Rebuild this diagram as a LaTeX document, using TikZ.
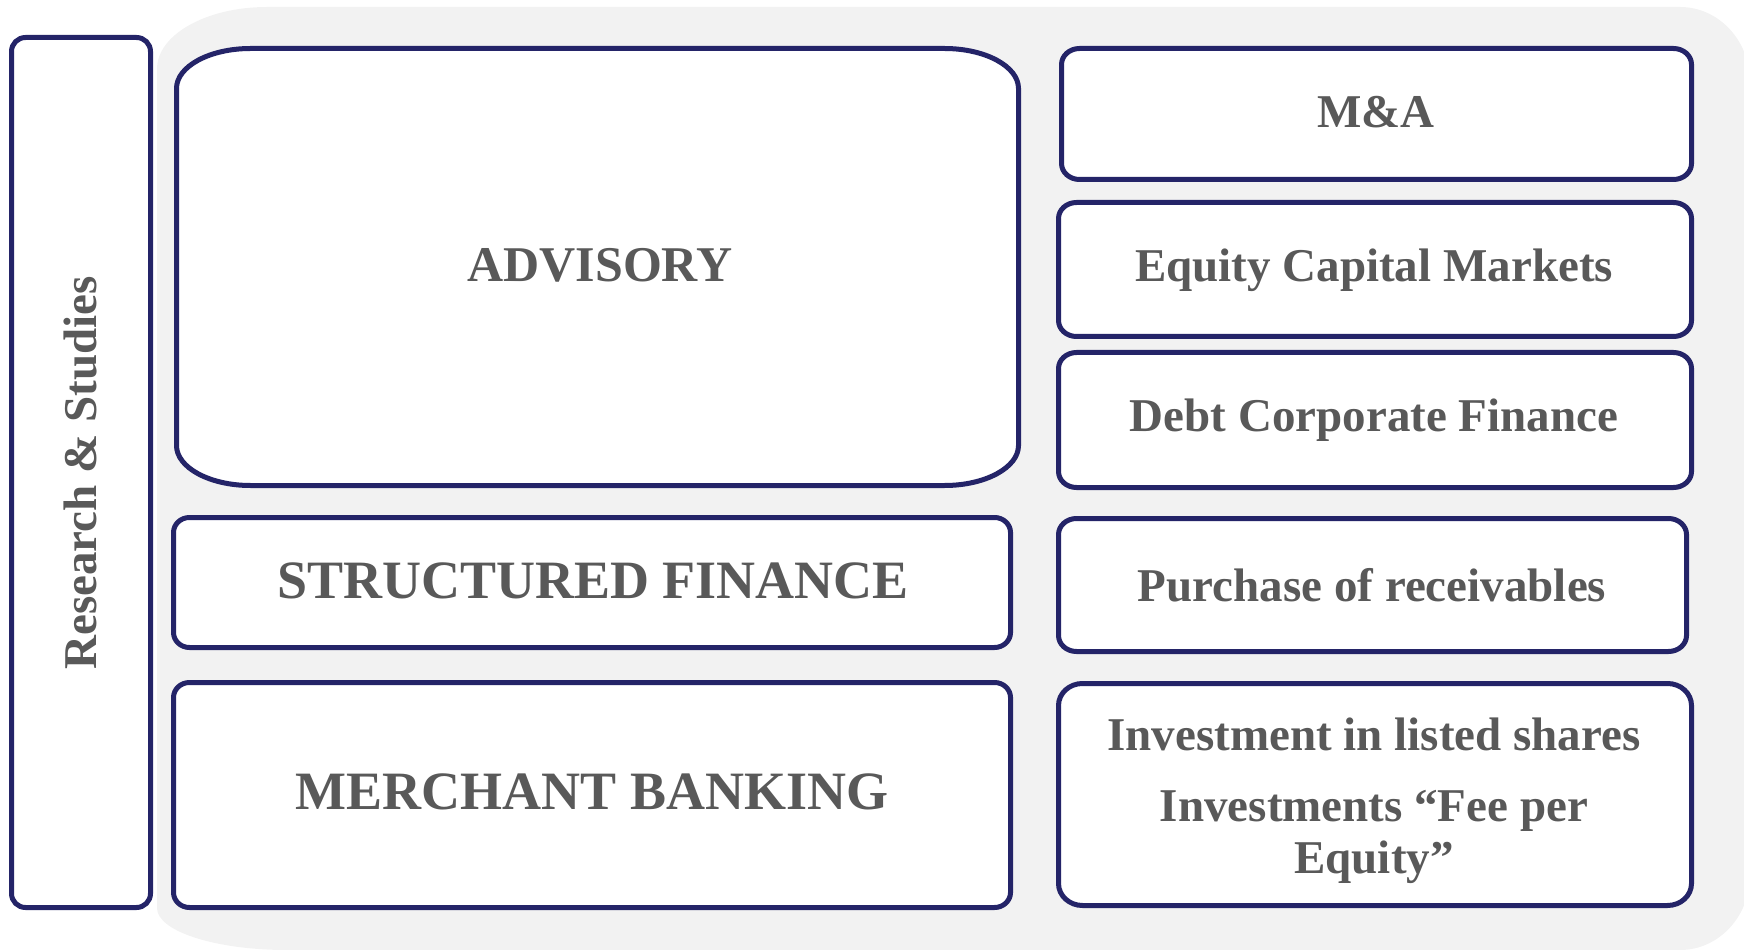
\documentclass[tikz,border=0pt]{standalone}
\usepackage{fontspec}
\setmainfont{Liberation Serif}
\definecolor{navy}{RGB}{36,36,104}
\definecolor{txtgray}{RGB}{89,89,89}
\definecolor{bggray}{RGB}{242,242,242}
\newcommand{\rbox}[6]{(#1+#5,#2)--(#3-#5,#2) arc[start angle=-90,end angle=0,x radius=#5,y radius=#6]--(#3,#4-#6) arc[start angle=0,end angle=90,x radius=#5,y radius=#6]--(#1+#5,#4) arc[start angle=90,end angle=180,x radius=#5,y radius=#6]--(#1,#2+#6) arc[start angle=180,end angle=270,x radius=#5,y radius=#6]--cycle}

\begin{document}
\begin{tikzpicture}[x=.5pt,y=.5pt,
	box/.style={draw=navy,line width=2.5pt,fill=white},
	lbl/.style={text=txtgray,font=\bfseries\fontsize{23.5}{26}\selectfont,align=center},
	caps/.style={text=txtgray,font=\bfseries\fontsize{27}{30}\selectfont}]
	\useasboundingbox (0,0) rectangle (1744,949);
	\fill[bggray](287,-1)--(1680,-1) arc[start angle=-90,end angle=0,x radius=70,y radius=75]--(1750,867) arc[start angle=0,end angle=90,x radius=70,y radius=75]--(267,942) arc[start angle=90,end angle=180,x radius=110,y radius=62]--(157,41) arc[start angle=180,end angle=270,x radius=130,y radius=42]--cycle;
	\draw[box] \rbox{11.5}{41.5}{150.5}{911.5}{14}{14};
	\draw[box] \rbox{176.5}{463.5}{1018.5}{900.5}{74}{40};
	\draw[box] \rbox{173.5}{301.5}{1010.5}{431.5}{16}{15};
	\draw[box] \rbox{173.5}{41.5}{1010.5}{266.5}{16}{15};
	\draw[box] \rbox{1061.5}{769.5}{1691.5}{900.5}{18}{16};
	\draw[box] \rbox{1058.5}{612.5}{1691.5}{746.5}{18}{16};
	\draw[box] \rbox{1058.5}{461.5}{1691.5}{596.5}{18}{16};
	\draw[box] \rbox{1058.5}{297.5}{1686.5}{430.5}{18}{16};
	\draw[box] \rbox{1058.5}{43.5}{1691.5}{265.5}{24}{22};
	\node[lbl,rotate=90] (research) at (80,476) {Research \& Studies};
	\node[caps,font=\bfseries\fontsize{25}{28}\selectfont] (advisory) at (600,684) {ADVISORY};
	\node[caps] (sfin) at (593,368) {STRUCTURED FINANCE};
	\node[caps] (mbank) at (592,157) {MERCHANT BANKING};
	\node[lbl] (ma) at (1376,837) {M\&A};
	\node[lbl] (ecm) at (1374,679) {Equity Capital Markets};
	\node[lbl] (dcf) at (1374,529) {Debt Corporate Finance};
	\node[lbl] (por) at (1372,364) {Purchase of receivables};
	\node[lbl] (inv) at (1374,148) {Investment in listed shares\\[9.5pt]Investments “Fee per\\Equity”};
\end{tikzpicture}
\end{document}
